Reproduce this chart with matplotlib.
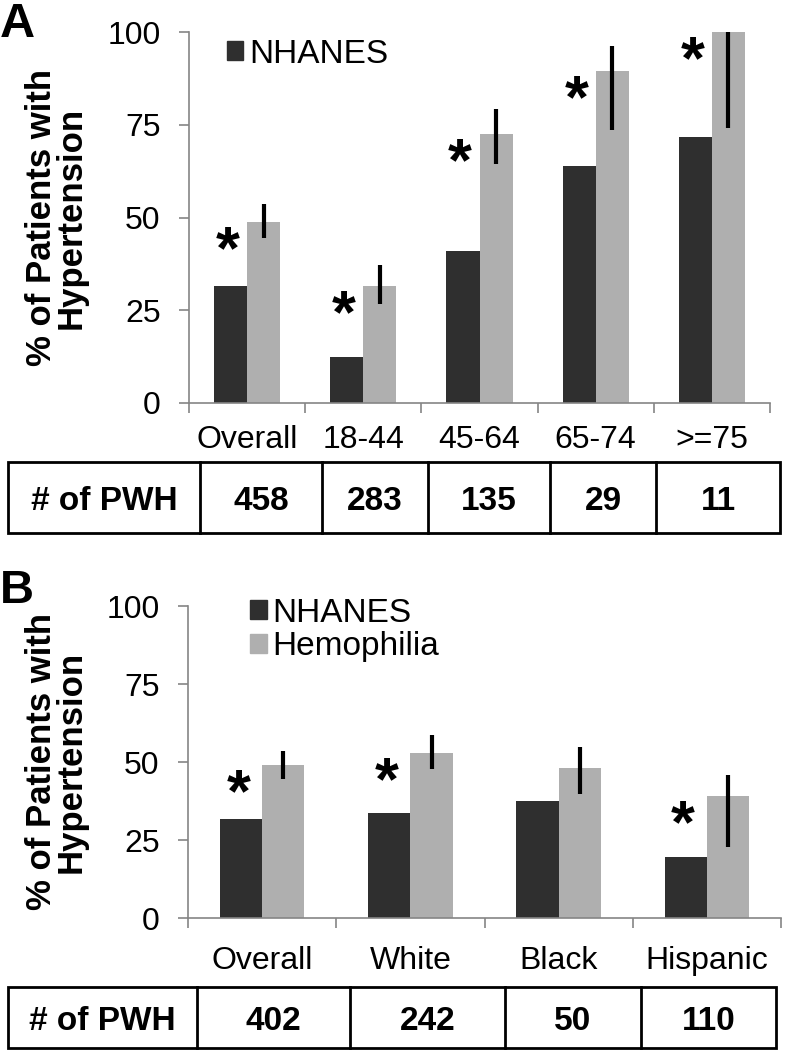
import matplotlib
matplotlib.use("Agg")
import matplotlib.pyplot as plt
import numpy as np
from matplotlib.patches import Patch, Rectangle

plt.rcParams['font.family'] = ['Liberation Sans', 'DejaVu Sans']

# ---------------- data ----------------
age_groups = ["Overall", "18-44", "45-64", "65-74", ">=75"]
nhanes_age = [31.5, 12.4, 41.0, 63.9, 71.7]
hemo_age = [48.8, 31.5, 72.5, 89.5, 100.0]
hemo_age_lo = [44.5, 26.7, 64.4, 73.6, 74.1]
hemo_age_hi = [53.6, 37.2, 79.2, 96.2, 100.0]
sig_age = [True, True, True, True, True]
pwh_age = [458, 283, 135, 29, 11]

race_groups = ["Overall", "White", "Black", "Hispanic"]
nhanes_race = [31.7, 33.7, 37.5, 19.6]
hemo_race = [49.0, 52.9, 48.1, 39.1]
hemo_race_lo = [44.6, 47.8, 39.7, 22.8]
hemo_race_hi = [53.5, 58.7, 54.8, 45.8]
sig_race = [True, True, False, True]
pwh_race = [402, 242, 50, 110]

yticks = [0, 25, 50, 75, 100]
ylabel = "% of Patients with\nHypertension"
table_header = "# of PWH"

# ---------------- style / layout ----------------
W, H = 793, 1050
DARK = '#2f2f2f'
LIGHT = '#afafaf'
AXIS = '#858585'
STARFS = 44


def fx(px):
    return px / W


def fy(py):
    return 1 - py / H


fig = plt.figure(figsize=(W / 100, H / 100), dpi=100)


def draw_panel(ax, cats, nh, he, lo, hi, sig, handles_n, legend_anchor, label_pad, ylabel_x):
    x = np.arange(len(cats))
    w = 0.285
    he = np.asarray(he)
    ax.bar(x - w / 2, nh, w, color=DARK, label='NHANES')
    ax.bar(x + w / 2, he, w, color=LIGHT, label='Hemophilia')
    ax.errorbar(x + w / 2, he, yerr=[he - np.asarray(lo), np.asarray(hi) - he],
                fmt='none', ecolor='black', elinewidth=3, capsize=0)
    for xi, s, h in zip(x, sig, he):
        if s:
            ax.annotate('*', (xi - w / 2, h), xytext=(-2, -9 - 0.55 * STARFS),
                        textcoords='offset points', ha='center', va='baseline',
                        fontsize=STARFS, fontweight='bold', annotation_clip=False)
    ax.set_xlim(-0.5, len(cats) - 0.5)
    ax.set_ylim(0, 100)
    ax.set_yticks(yticks)
    ax.set_xticks(x)
    ax.set_xticklabels(cats)
    ax.set_xticks(np.arange(-0.5, len(cats), 1.0), minor=True)
    for s in ['top', 'right']:
        ax.spines[s].set_visible(False)
    for s in ['left', 'bottom']:
        ax.spines[s].set_color(AXIS)
        ax.spines[s].set_linewidth(1.2)
    ax.tick_params(axis='y', length=7.5, width=1.2, color=AXIS, labelsize=23, pad=13)
    ax.tick_params(axis='x', which='major', length=0, labelsize=23, pad=label_pad)
    ax.tick_params(axis='x', which='minor', length=7.5, width=1.2, color=AXIS)
    ax.set_ylabel(ylabel, fontsize=25, fontweight='bold', linespacing=0.85)
    ax.yaxis.set_label_coords(ylabel_x, 0.5)
    handles = [Patch(color=DARK), Patch(color=LIGHT)][:handles_n]
    labels = ['NHANES', 'Hemophilia'][:handles_n]
    ax.legend(handles, labels, loc='upper left', bbox_to_anchor=legend_anchor,
              frameon=False, fontsize=24, handlelength=0.5, handleheight=0.5,
              handletextpad=0.17, borderpad=0, borderaxespad=0, labelspacing=0.08)


def draw_table(top, bottom, edges, values):
    tax = fig.add_axes([fx(edges[0]), fy(bottom), (edges[-1] - edges[0]) / W, (bottom - top) / H])
    tax.set_xlim(edges[0], edges[-1])
    tax.set_ylim(bottom, top)
    tax.axis('off')
    tax.add_patch(Rectangle((edges[0], top), edges[-1] - edges[0], bottom - top,
                            fill=False, lw=2, ec='black', clip_on=False))
    for e in edges[1:-1]:
        tax.plot([e, e], [top, bottom], color='black', lw=2, clip_on=False)
    texts = [table_header] + [str(v) for v in values]
    for i, t in enumerate(texts):
        tax.text((edges[i] + edges[i + 1]) / 2, (top + bottom) / 2, t, ha='center',
                 va='center_baseline', fontsize=24, fontweight='bold')


# Panel A
axA = fig.add_axes([fx(189), fy(403), (770 - 189) / W, (403 - 32) / H])
draw_panel(axA, age_groups, nhanes_age, hemo_age, hemo_age_lo, hemo_age_hi, sig_age,
           1, (0.065, 0.982), 16, -0.175)
draw_table(462, 533, [8, 200, 322, 428, 550, 656, 780], pwh_age)

# Panel B
axB = fig.add_axes([fx(188), fy(918), (781 - 188) / W, (918 - 606) / H])
draw_panel(axB, race_groups, nhanes_race, hemo_race, hemo_race_lo, hemo_race_hi, sig_race,
           2, (0.105, 1.027), 20, -0.17)
draw_table(987, 1048, [8, 197, 350, 505, 641, 776], pwh_race)

fig.text(fx(0), fy(37), "A", fontsize=35, fontweight='bold', ha='left', va='baseline')
fig.text(fx(0), fy(603), "B", fontsize=34, fontweight='bold', ha='left', va='baseline')

fig.savefig("out.png", dpi=100)
